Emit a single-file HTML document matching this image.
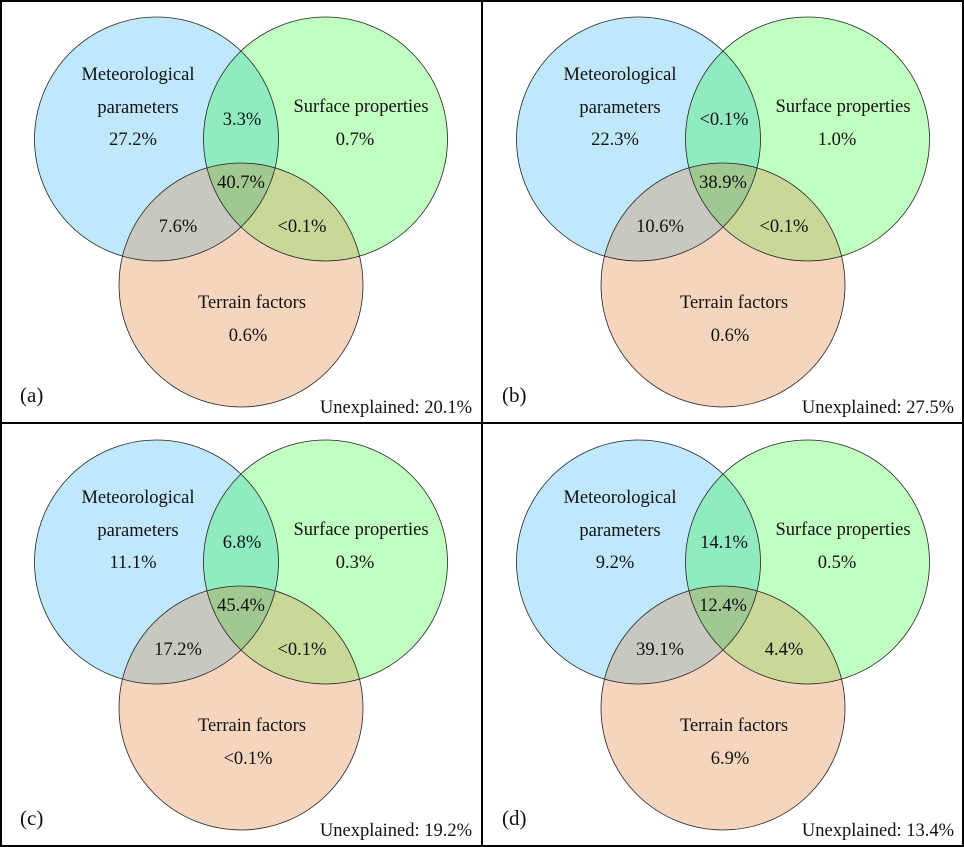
<!DOCTYPE html>
<html><head><meta charset="utf-8"><style>
body{margin:0;background:#fff}
svg{display:block;font-family:"Liberation Serif",serif;font-size:18.5px;fill:#111}
.c{stroke:#222;stroke-width:0.8;fill:none}
</style></head><body>
<svg id="v" width="964" height="847">
<defs>
<clipPath id="cb"><circle cx="156.5" cy="139" r="122"/></clipPath>
<clipPath id="cg"><circle cx="325.5" cy="139" r="122"/></clipPath>
<clipPath id="co"><circle cx="241" cy="285" r="122"/></clipPath>
</defs>
<rect x="1" y="1" width="962" height="845" fill="#fff" stroke="#000" stroke-width="2"/>
<line x1="482" y1="0" x2="482" y2="847" stroke="#000" stroke-width="2"/>
<line x1="0" y1="423" x2="964" y2="423" stroke="#000" stroke-width="2"/>
</svg>
<script>
const panelLabels=["(a)","(b)","(c)","(d)"];
const metOnly=["27.2%","22.3%","11.1%","9.2%"];
const surfOnly=["0.7%","1.0%","0.3%","0.5%"];
const terrOnly=["0.6%","0.6%","<0.1%","6.9%"];
const metSurf=["3.3%","<0.1%","6.8%","14.1%"];
const allThree=["40.7%","38.9%","45.4%","12.4%"];
const metTerr=["7.6%","10.6%","17.2%","39.1%"];
const surfTerr=["<0.1%","<0.1%","<0.1%","4.4%"];
const unexplained=["20.1%","27.5%","19.2%","13.4%"];
const svg=document.getElementById('v');
const NS='http://www.w3.org/2000/svg';
function mk(t,a,p){const e=document.createElementNS(NS,t);for(const k in a)e.setAttribute(k,a[k]);(p||svg).appendChild(e);return e;}
function txt(g,x,y,s,anchor){const e=mk('text',{x:x,y:y,'text-anchor':anchor||'middle'},g);e.textContent=s;return e;}
const B={cx:156.5,cy:139,r:122},G={cx:325.5,cy:139,r:122},O={cx:241,cy:285,r:122};
for(let i=0;i<4;i++){
  const dx=(i%2)*482, dy=Math.floor(i/2)*423;
  const g=mk('g',{transform:`translate(${dx},${dy})`});
  
  
  mk('circle',Object.assign({fill:'#c0e8fc'},B),g);
  mk('circle',Object.assign({fill:'#c0ffc0'},G),g);
  mk('circle',Object.assign({fill:'#f5d5bd'},O),g);
  mk('circle',Object.assign({fill:'#90ecc0','clip-path':'url(#cg)'},B),g);
  mk('circle',Object.assign({fill:'#c8c8c0','clip-path':'url(#cb)'},O),g);
  mk('circle',Object.assign({fill:'#c8d898','clip-path':'url(#cg)'},O),g);
  const tg=mk('g',{'clip-path':'url(#cb)'},g);
  mk('circle',Object.assign({fill:'#a0c890','clip-path':'url(#cg)'},O),tg);
  const c1=mk('circle',Object.assign({class:'c'},B),g);
  
  
  const c2=mk('circle',Object.assign({class:'c'},G),g);
  
  
  const c3=mk('circle',Object.assign({class:'c'},O),g);
  
  
  const items=[
    [138,80,"Meteorological",'met-title'],[138,113,"parameters",'met-title-2'],[133,145,metOnly[i],'met-only-value'],
    [361,112,"Surface properties",'surface-title'],[355,145,surfOnly[i],'surface-only-value'],
    [242,125,metSurf[i],'met-surface-value'],[241,188,allThree[i],'all-three-value'],
    [178,232,metTerr[i],'met-terrain-value'],[302,232,surfTerr[i],'surface-terrain-value'],
    [252,308,"Terrain factors",'terrain-title'],[248,341,terrOnly[i],'terrain-only-value']];
  for(const it of items){
    const t=txt(g,it[0],it[1],it[2]);
    
    
  }
  const pl=txt(g,20,402,panelLabels[i],'start');
  
  
  pl.setAttribute('font-size','21');
  const un=txt(g,472,413,"Unexplained: "+unexplained[i],'end');
  
  
}
</script>
</body></html>
